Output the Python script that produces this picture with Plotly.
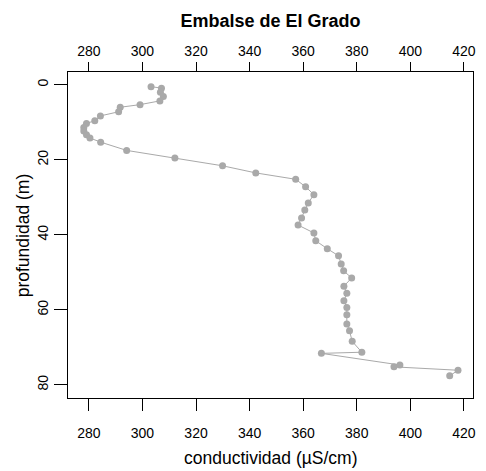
import plotly.graph_objects as go

depth = [0.5, 0.9, 2.0, 3.1, 4.3, 5.3, 6.0, 7.2, 8.3, 9.6, 10.3, 11.4, 12.3, 13.3,
         14.2, 15.3, 17.5, 19.5, 21.6, 23.5, 25.2, 27.2, 29.3, 31.5, 33.4, 35.5,
         37.4, 39.5, 41.6, 43.7, 45.6, 47.8, 49.6, 51.5, 53.7, 55.6, 57.6, 59.4,
         61.3, 63.8, 65.6, 68.4, 71.3, 71.6, 74.7, 75.2, 76.1, 77.6]
conductividad = [303.2, 307.1, 306.7, 307.8, 306.5, 299.1, 291.7, 291.1, 284.3, 282.2,
                 279.1, 278.1, 278.1, 279.1, 280.4, 284.4, 294.1, 312.1, 329.9, 342.3,
                 357.2, 360.9, 364.0, 361.9, 360.6, 359.4, 358.1, 364.0, 364.7, 369.0,
                 373.2, 374.2, 375.1, 378.1, 375.2, 376.3, 375.2, 376.3, 376.3, 376.3,
                 377.3, 378.3, 381.9, 366.8, 396.1, 393.9, 417.8, 414.7]

x_ticks = [280, 300, 320, 340, 360, 380, 400, 420]
y_ticks = [0, 20, 40, 60, 80]

FONT = "Liberation Sans, Arial, sans-serif"
GREY = "#A9A9A9"
XR = [272.2, 423.4]
YR = [83.5, -3.4]

fig = go.Figure()
fig.add_trace(go.Scatter(
    x=conductividad, y=depth, mode="lines+markers",
    line=dict(color=GREY, width=1),
    marker=dict(color=GREY, size=7),
    showlegend=False, cliponaxis=False))
# invisible trace to activate top axis
fig.add_trace(go.Scatter(x=[XR[0]], y=[YR[0]], xaxis="x2", mode="markers",
                         marker=dict(opacity=0), showlegend=False, hoverinfo="skip"))

fig.update_layout(
    width=486, height=471,
    margin=dict(l=68, r=10, t=71.5, b=73),
    paper_bgcolor="white", plot_bgcolor="white",
    font=dict(family=FONT, size=14, color="black"),
    xaxis=dict(range=XR, tickvals=x_ticks, ticks="outside", ticklen=12,
               tickcolor="black", showline=True, linecolor="black", linewidth=1,
               mirror=True, showgrid=False, zeroline=False,
               tickfont=dict(size=14), ticklabelstandoff=10),
    xaxis2=dict(range=XR, tickvals=x_ticks, ticks="outside", ticklen=9,
                tickcolor="black", overlaying="x", side="top", showline=False,
                showgrid=False, zeroline=False, tickfont=dict(size=14)),
    yaxis=dict(range=YR, tickvals=y_ticks, ticks="outside", ticklen=13,
               tickcolor="black", showline=True, linecolor="black", linewidth=1,
               mirror=True, showgrid=False, zeroline=False, tickangle=-90,
               tickfont=dict(size=14)),
    title=dict(text="<b>Embalse de El Grado</b>", x=0.5, xanchor="center",
               xref="paper", y=1 - 21 / 471, yref="container", yanchor="middle",
               font=dict(size=18)),
    annotations=[
        dict(text="conductividad (µS/cm)", xref="paper", yref="paper",
             x=0.5, y=-(458 - 398) / 326.5, xanchor="center", yanchor="middle",
             showarrow=False, font=dict(size=17.5)),
        dict(text="profundidad (m)", xref="paper", yref="paper",
             x=-(68 - 23) / 408, y=0.5, xanchor="center", yanchor="middle",
             textangle=-90, showarrow=False, font=dict(size=17.5)),
    ],
)
fig.write_html("out.html", config={"displayModeBar": False},
               post_script="document.body.style.margin='0';document.body.style.overflow='hidden';")
